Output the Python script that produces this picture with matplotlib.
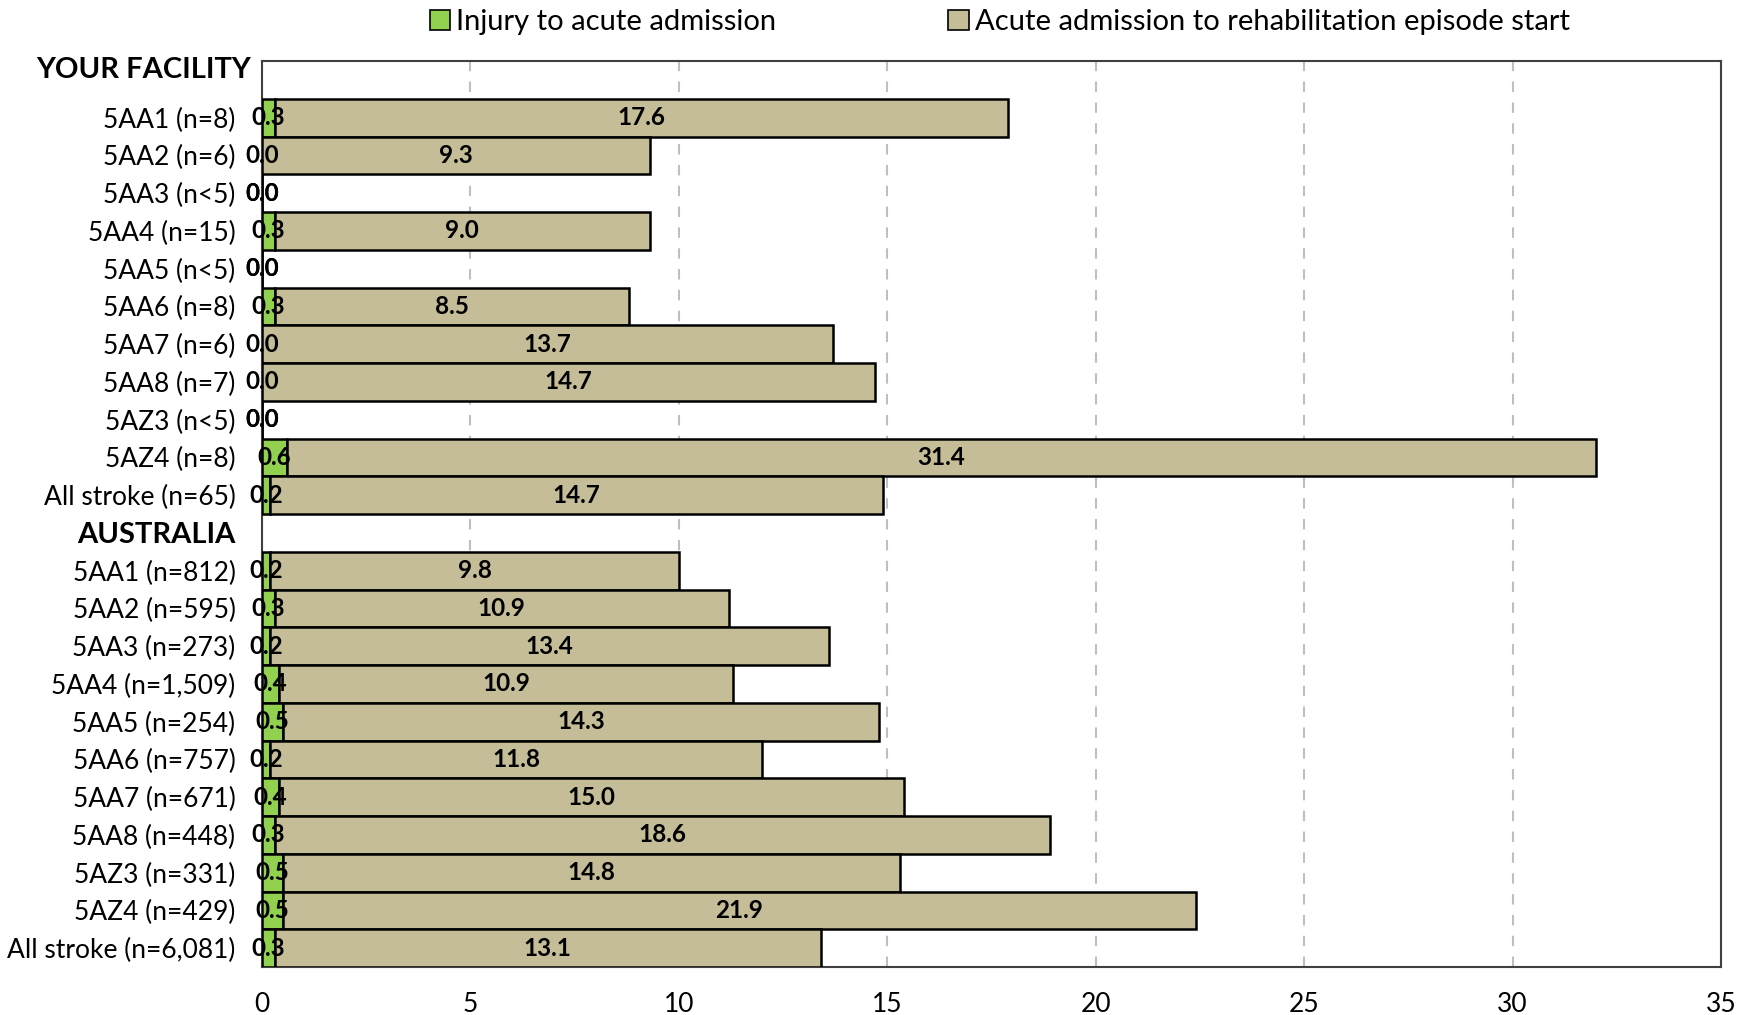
import matplotlib
matplotlib.use("Agg")
import matplotlib.pyplot as plt
import numpy as np
from matplotlib.patches import Patch

plt.rcParams['font.family'] = ['Lato', 'DejaVu Sans']

labels = ["YOUR FACILITY", "5AA1 (n=8)", "5AA2 (n=6)", "5AA3 (n<5)", "5AA4 (n=15)", "5AA5 (n<5)",
          "5AA6 (n=8)", "5AA7 (n=6)", "5AA8 (n=7)", "5AZ3 (n<5)", "5AZ4 (n=8)", "All stroke (n=65)",
          "AUSTRALIA", "5AA1 (n=812)", "5AA2 (n=595)", "5AA3 (n=273)", "5AA4 (n=1,509)", "5AA5 (n=254)",
          "5AA6 (n=757)", "5AA7 (n=671)", "5AA8 (n=448)", "5AZ3 (n=331)", "5AZ4 (n=429)", "All stroke (n=6,081)"]
is_header = [True] + [False] * 11 + [True] + [False] * 11

injury_to_acute = [None, 0.3, 0.0, 0.0, 0.3, 0.0, 0.3, 0.0, 0.0, 0.0, 0.6, 0.2,
                   None, 0.2, 0.3, 0.2, 0.4, 0.5, 0.2, 0.4, 0.3, 0.5, 0.5, 0.3]
acute_to_rehab = [None, 17.6, 9.3, 0.0, 9.0, 0.0, 8.5, 13.7, 14.7, 0.0, 31.4, 14.7,
                  None, 9.8, 10.9, 13.4, 10.9, 14.3, 11.8, 15.0, 18.6, 14.8, 21.9, 13.1]

series_names = ["Injury to acute admission", "Acute admission to rehabilitation episode start"]
green = "#92D050"
beige = "#C4BD97"

fig = plt.figure(figsize=(17.39, 10.15), dpi=100)
ax = fig.add_axes([262 / 1739, 1 - 967 / 1015, (1721 - 262) / 1739, (967 - 61) / 1015])

n = len(labels)
y = np.arange(n)
for i in range(n):
    if is_header[i]:
        continue
    a = injury_to_acute[i]
    b = acute_to_rehab[i]
    ax.barh(y[i], a, height=1.0, color=green, edgecolor="black", linewidth=1.8, zorder=3)
    ax.barh(y[i], b, left=a, height=1.0, color=beige, edgecolor="black", linewidth=1.8, zorder=3)
    ax.text(a / 2, y[i], f"{a:.1f}", ha="center", va="center", fontsize=17.5, fontweight="bold", zorder=5)
    ax.text(a + b / 2, y[i], f"{b:.1f}", ha="center", va="center", fontsize=17.5, fontweight="bold", zorder=5)

ax.set_ylim(n - 0.5, -0.5)
ax.set_xlim(0, 35)
ax.set_xticks(np.arange(0, 36, 5))
ax.set_yticks(y)
# first header is drawn separately (sits slightly above its row in the reference)
tick_texts = ["" if i == 0 else lab for i, lab in enumerate(labels)]
ax.set_yticklabels(tick_texts)
for lbl, h in zip(ax.get_yticklabels(), is_header):
    if h:
        lbl.set_fontweight("bold")
        lbl.set_fontsize(21)
    else:
        lbl.set_fontsize(19)
ax.annotate(labels[0], xy=(0, y[0]), xycoords=("axes fraction", "data"),
            xytext=(-8, 7), textcoords="offset points", ha="right", va="center",
            fontsize=21, fontweight="bold", annotation_clip=False)
ax.tick_params(axis="y", length=0, pad=19)
ax.tick_params(axis="x", length=0, pad=18, labelsize=19)
ax.xaxis.grid(True, linestyle=(0, (5, 5)), color="#BFBFBF", linewidth=1.5, zorder=0)
ax.set_axisbelow(True)
for s in ax.spines.values():
    s.set_color("#404040")
    s.set_linewidth(1.5)

handles = [Patch(facecolor=green, edgecolor="black", linewidth=1.2),
           Patch(facecolor=beige, edgecolor="black", linewidth=1.2)]
fig.legend(handles, series_names, loc="center left", bbox_to_anchor=(430 / 1739, 1 - 22 / 1015), ncol=2,
           frameon=False, fontsize=21, handlelength=0.7, handleheight=0.7, handletextpad=0.2,
           columnspacing=5.9, borderpad=0, borderaxespad=0)

fig.savefig("out.png", dpi=100)
